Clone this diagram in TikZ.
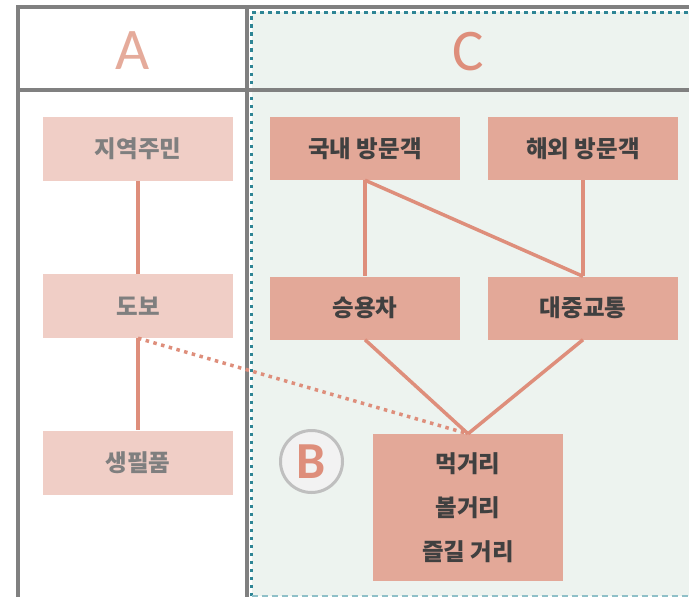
\documentclass[tikz,border=0pt]{standalone}
\usepackage{fontspec}
\setmainfont{Noto Sans CJK KR}
\newfontfamily\letterfont{Carlito}
\usepackage{xcolor}
\definecolor{framegray}{HTML}{808080}
\definecolor{zonegreen}{HTML}{EDF3EF}
\definecolor{zoneteal}{HTML}{2E8595}
\definecolor{zonetealLight}{HTML}{8FC0C8}
\definecolor{linkpink}{HTML}{DE8E7B}
\definecolor{paleboxfill}{HTML}{F0CEC6}
\definecolor{boxfill}{HTML}{E3A898}
\definecolor{lettera}{HTML}{E5AB9B}
\definecolor{palegrayText}{HTML}{7F7F7F}
\definecolor{darkText}{HTML}{404040}

\begin{document}
\begin{tikzpicture}[x=1pt,y=-1pt,
		frame/.style={draw=framegray,line width=4pt},
		palebox/.style={rectangle,fill=paleboxfill,minimum width=190pt,minimum height=64pt,inner sep=0pt,
			text=palegrayText,font=\fontsize{23.5}{26}\selectfont\bfseries},
		darkbox/.style={rectangle,fill=boxfill,minimum width=190pt,minimum height=63pt,inner sep=0pt,
			text=darkText,font=\fontsize{23.5}{26}\selectfont\bfseries},
		link/.style={draw=linkpink,line width=3.5pt},
		weaklink/.style={draw=linkpink,line width=3.5pt,dash pattern=on 3.5pt off 4.5pt}]
	\useasboundingbox (0,0) rectangle (689,597);
	% zone C
	\fill [zonegreen] (252,12) rectangle (689,596);
	\draw [zoneteal,line width=3.5pt,dash pattern=on 3.5pt off 4.5pt] (251.5,596) -- (251.5,12.5) -- (689,12.5);
	\draw [zonetealLight,line width=1.5pt,dash pattern=on 6pt off 4pt] (251.5,596) -- (689,596);
	% frame
	\draw [frame] (16,6.5) -- (689,6.5);
	\draw [frame] (16,90) -- (689,90);
	\draw [frame] (18,5) -- (18,597);
	\draw [frame] (247,5) -- (247,597);
	% headers
	\node (headA) at (133,51) {\letterfont\fontsize{59}{60}\selectfont\color{lettera}A};
	\node (headC) at (468,52) {\letterfont\fontsize{59}{60}\selectfont\color{linkpink}C};
	% column A
	\node [palebox] (jiyeok) at (138,149) {지역주민};
	\node [palebox] (dobo) at (138,306) {도보};
	\node [palebox] (saengpil) at (138,462.5) {생필품};
	% zone C boxes
	\node [darkbox] (gungnae) at (365,148.5) {국내 방문객};
	\node [darkbox] (haeoe) at (583,148.5) {해외 방문객};
	\node [darkbox] (seungyong) at (365,308) {승용차};
	\node [darkbox] (daejung) at (583,308) {대중교통};
	\node [darkbox,minimum height=147pt,align=center,font=\fontsize{23.5}{44}\selectfont\bfseries] (meok) at (468,507.5)
		{먹거리\\볼거리\\즐길 거리};
	% label B
	\node [circle,draw=black!25,line width=3pt,fill=black!5,minimum size=62pt,inner sep=0pt] (labelB) at (311.5,461.5)
		{\letterfont\bfseries\fontsize{52}{54}\selectfont\color{linkpink}B};
	% links
	\draw [link] (jiyeok.south) -- (dobo.north);
	\draw [link] (dobo.south) -- (saengpil.north);
	\draw [link] (gungnae.south) -- (seungyong.north);
	\draw [link] (gungnae.south) -- (daejung.north);
	\draw [link] (haeoe.south) -- (daejung.north);
	\draw [link] (seungyong.south) -- (meok.north);
	\draw [link] (daejung.south) -- (meok.north);
	\draw [weaklink] (dobo.south) -- (meok.north);
\end{tikzpicture}
\end{document}
